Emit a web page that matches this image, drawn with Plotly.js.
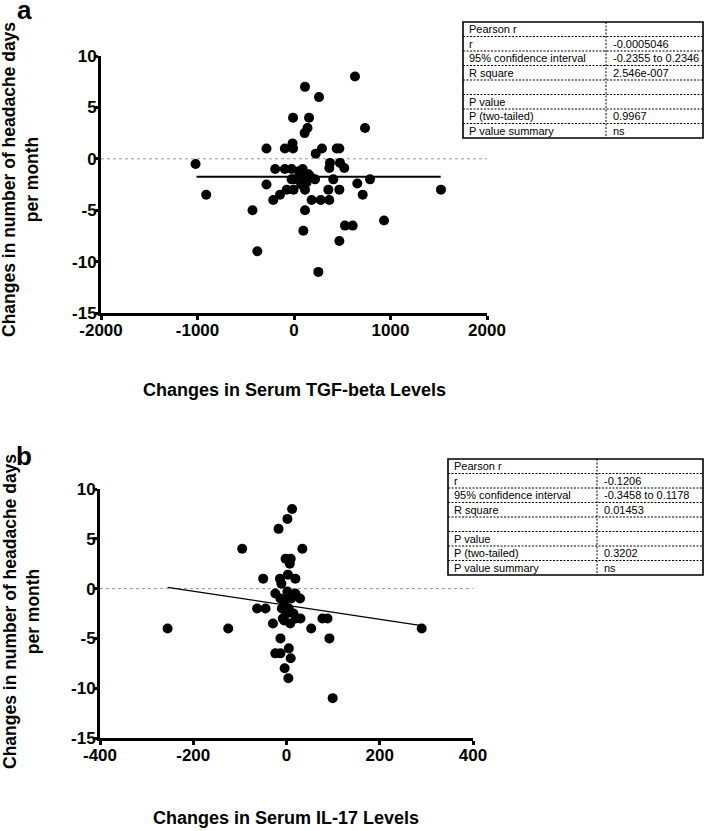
<!DOCTYPE html>
<html>
<head>
<meta charset="utf-8">
<script src="https://cdn.plot.ly/plotly-3.0.1.min.js"></script>
<style>html,body{margin:0;padding:0;background:#fff;}#chart{width:709px;height:831px;}</style>
</head>
<body>
<div id="chart"></div>
<script>
// ---------- data ----------
const tgfX = [-1020,-910,-430,-380,-285,-285,-215,-145,-195,-95,-95,-75,-10,-15,-10,-25,-25,-5,0,
  90,90,114,114,114,97,140,110,156,166,218,183,225,259,252,277,290,366,356,373,366,407,442,470,477,521,
  470,470,528,608,632,656,712,736,788,933,1523,60,130,75,150,50];
const tgfY = [-0.5,-3.5,-5,-9,1,-2.5,-4,-3.5,-1,1,-1,-3,4,1.5,1,-1,-2,-3,-2,
  -1,-1.7,7,-3,-5,-7,3,2.5,4,-1.7,-2,-4,0.5,6,-11,-4,1,-4,-3,-0.4,-0.9,-2,1,1,-0.4,-0.9,
  -3,-8,-6.5,-6.5,8,-2.4,-3.5,3,-2,-6,-3,-2,-2.3,-2.5,-1.5,-1.2];
const tgfFitX = [-1010, 1520];
const tgfFitY = [-1.75, -1.75];

const il17X = [-255,-125,-95,-63,-45,-50,-29,-24,-24,-17,-14,-13,-13,-13,-11,-10,-8,-5,-4,-2,0,2,3,4,5,5,7,9,9,8,10,12,15,19,19,20,29,30,34,53,77,88,92,99,290,0,-5,2];
const il17Y = [-4,-4,4,-2,-2,1,-3.5,-0.5,-6.5,6,1,-1,-5,-6.5,0.5,-2,-3,-1.5,-8,3,-2.5,7,1.4,-9,-6,-2,2.5,3,-7,-3.5,-1,8,-2.5,1,-0.5,-3,-1,-3,4,-4,-3,-3,-5,-11,-4,-1,-3.2,-0.3];
const il17FitX = [-255, 290];
const il17FitY = [0.12, -3.72];

const xTicksA = [-2000,-1000,0,1000,2000];
const xTickTextA = ['-2000','-1000','0','1000','2000'];
const xTicksB = [-400,-200,0,200,400];
const xTickTextB = ['-400','-200','0','200','400'];
const yTicks = [-15,-10,-5,0,5,10];
const yTickText = ['-15','-10','-5','0','5','10'];

const tableLabels = ['Pearson r','r','95% confidence interval','R square','','P value','P (two-tailed)','P value summary'];
const tableAValues = ['','-0.0005046','-0.2355 to 0.2346','2.546e-007','','','0.9967','ns'];
const tableBValues = ['','-0.1206','-0.3458 to 0.1178','0.01453','','','0.3202','ns'];

const yTitle = 'Changes in number of headache days<br>per month';
const xTitleA = 'Changes in Serum TGF-beta Levels';
const xTitleB = 'Changes in Serum IL-17 Levels';

// ---------- layout helpers (pixels -> paper) ----------
const W = 709, H = 831;
const px = x => x / W;
const py = y => 1 - y / H;
const FONT = 'Liberation Sans, Arial, Helvetica, sans-serif';

const tickFont = {family: FONT, size: 17, color: '#000', weight: 'bold'};

function axisX(domain, range, vals, text, anchor) {
  return {domain: domain, range: range, tickvals: vals, ticktext: text, anchor: anchor,
    showline: true, linewidth: 3, linecolor: '#000', ticks: 'outside', ticklen: 4, tickwidth: 3,
    tickcolor: '#000', showgrid: false, zeroline: false, tickfont: tickFont, fixedrange: true,
    ticklabelstandoff: -4};
}
function axisY(domain, anchor) {
  return {domain: domain, range: [-15, 10], tickvals: yTicks, ticktext: yTickText, anchor: anchor,
    showline: true, linewidth: 3, linecolor: '#000', ticks: 'outside', ticklen: 4, tickwidth: 3,
    tickcolor: '#000', showgrid: false, zeroline: false, tickfont: tickFont, fixedrange: true,
    ticklabelstandoff: -6};
}

const traces = [
  {x: [-2000, 2000], y: [0, 0], xaxis: 'x', yaxis: 'y', mode: 'lines',
   line: {color: '#999', width: 1, dash: 'dot'}, hoverinfo: 'skip'},
  {x: tgfFitX, y: tgfFitY, xaxis: 'x', yaxis: 'y', mode: 'lines', line: {color: '#000', width: 2}},
  {x: tgfX, y: tgfY, xaxis: 'x', yaxis: 'y', mode: 'markers', marker: {color: '#000', size: 10}},
  {x: [-400, 400], y: [0, 0], xaxis: 'x2', yaxis: 'y2', mode: 'lines',
   line: {color: '#999', width: 1, dash: 'dot'}, hoverinfo: 'skip'},
  {x: il17FitX, y: il17FitY, xaxis: 'x2', yaxis: 'y2', mode: 'lines', line: {color: '#000', width: 1.3}},
  {x: il17X, y: il17Y, xaxis: 'x2', yaxis: 'y2', mode: 'markers', marker: {color: '#000', size: 10}}
];

const shapes = [];
const annotations = [];

function addTable(left, right, top, bottom, divider, values) {
  const n = tableLabels.length;
  const rh = (bottom - top) / n;
  for (let i = 1; i < n; i++) {
    const y = top + i * rh;
    shapes.push({type: 'line', xref: 'paper', yref: 'paper', x0: px(left), x1: px(right), y0: py(y), y1: py(y),
      line: {color: '#000', width: 1, dash: '2px,1.5px'}});
  }
  shapes.push({type: 'line', xref: 'paper', yref: 'paper', x0: px(divider), x1: px(divider), y0: py(top), y1: py(bottom),
    line: {color: '#000', width: 1, dash: '2px,1.5px'}});
  shapes.push({type: 'rect', xref: 'paper', yref: 'paper', x0: px(left), x1: px(right), y0: py(bottom), y1: py(top),
    line: {color: '#000', width: 1.6}});
  for (let i = 0; i < n; i++) {
    const yc = top + (i + 0.5) * rh;
    if (tableLabels[i]) annotations.push({xref: 'paper', yref: 'paper', x: px(left + 4), y: py(yc),
      xanchor: 'left', yanchor: 'middle', text: tableLabels[i], showarrow: false,
      font: {family: FONT, size: 11, color: '#000'}});
    if (values[i]) annotations.push({xref: 'paper', yref: 'paper', x: px(divider + 5), y: py(yc),
      xanchor: 'left', yanchor: 'middle', text: values[i], showarrow: false,
      font: {family: FONT, size: 11, color: '#000'}});
  }
}
addTable(463, 703, 22, 138, 606, tableAValues);
addTable(448, 703, 459, 575, 597, tableBValues);

const titleFont = {family: FONT, size: 17.5, color: '#000', weight: 'bold'};
annotations.push(
  {xref: 'paper', yref: 'paper', x: px(21), y: py(180), text: yTitle, textangle: -90, showarrow: false,
   xanchor: 'center', yanchor: 'middle', font: titleFont},
  {xref: 'paper', yref: 'paper', x: px(21), y: py(612), text: yTitle, textangle: -90, showarrow: false,
   xanchor: 'center', yanchor: 'middle', font: titleFont},
  {xref: 'paper', yref: 'paper', x: px(294), y: py(390), text: xTitleA, showarrow: false,
   xanchor: 'center', yanchor: 'middle', font: {family: FONT, size: 18, color: '#000', weight: 'bold'}},
  {xref: 'paper', yref: 'paper', x: px(286), y: py(818), text: xTitleB, showarrow: false,
   xanchor: 'center', yanchor: 'middle', font: {family: FONT, size: 18, color: '#000', weight: 'bold'}},
  {xref: 'paper', yref: 'paper', x: px(24), y: py(10), text: 'a', showarrow: false,
   xanchor: 'center', yanchor: 'middle', font: {family: FONT, size: 26, color: '#000', weight: 'bold'}},
  {xref: 'paper', yref: 'paper', x: px(24), y: py(456), text: 'b', showarrow: false,
   xanchor: 'center', yanchor: 'middle', font: {family: FONT, size: 26, color: '#000', weight: 'bold'}}
);

const layout = {
  width: W, height: H, margin: {l: 0, r: 0, t: 0, b: 0},
  paper_bgcolor: '#fff', plot_bgcolor: '#fff', showlegend: false,
  xaxis: axisX([px(101), px(487)], [-2000, 2000], xTicksA, xTickTextA, 'y'),
  yaxis: axisY([py(313), py(56)], 'x'),
  xaxis2: axisX([px(100), px(473)], [-400, 400], xTicksB, xTickTextB, 'y2'),
  yaxis2: axisY([py(738), py(489)], 'x2'),
  shapes: shapes, annotations: annotations
};

Plotly.newPlot('chart', traces, layout, {staticPlot: true, displayModeBar: false});
</script>
</body>
</html>
